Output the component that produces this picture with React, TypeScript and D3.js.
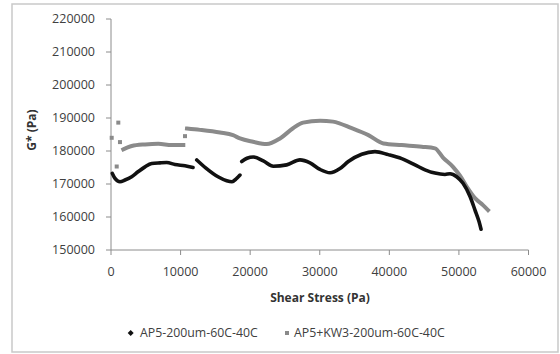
import * as d3 from 'd3';
import React, { useEffect, useRef } from 'react';

// AP5-200um-60C-40C (black), null splits the separate runs
const apStress = [190, 575, 1290, 2010, 2975, 3880, 4890, 5850, 7040, 8005, 9200, 10635, 11785, null,
  12320, 13600, 15380, 16630, 17390, 18065, 18540, null,
  18785, 19550, 20450, 21890, 23325, 25250, 27160, 28600, 30040, 31475, 32910, 34105, 36030, 37940,
  39850, 41780, 43690, 45130, 46565, 48000, 48720, 49680, 50590, 51600, 52310, 52890, 53180];
const apModulus = [173200, 171700, 170700, 171200, 172200, 173700, 175200, 176200, 176400, 176500, 175900, 175500, 175000, null,
  177300, 174900, 172200, 171000, 170700, 171700, 172700, null,
  176800, 177800, 178200, 177000, 175400, 175800, 177300, 176400, 174400, 173400, 174700, 176800, 179000, 179800,
  178900, 177700, 175800, 174300, 173300, 172900, 173100, 172200, 170200, 166200, 162100, 158600, 156300];

// AP5+KW3-200um-60C-40C (gray)
const kwStress = [1770, 2975, 4890, 6800, 8720, 10390, null,
  10920, 12790, 15665, 17535, 18540, 20410, 22380, 24290, 26160, 27600, 30040, 31905, 34600,
  36990, 39150, 41780, 44650, 46560, 47715, 49150, 50160, 51120, 52310, 53460, 54180];
const kwModulus = [180500, 181500, 182000, 182200, 181800, 181800, null,
  186800, 186400, 185600, 184800, 183800, 182800, 182100, 183800, 186900, 188600, 189200, 188900, 186900,
  184800, 182300, 181800, 181300, 180800, 178000, 175200, 172500, 169200, 165700, 163600, 162100];
const kwDotStress = [100, 1050, 1290, 820, 10635];
const kwDotModulus = [184000, 188600, 182700, 175300, 184500];

const xTicks = [0, 10000, 20000, 30000, 40000, 50000, 60000];
const yTicks = [150000, 160000, 170000, 180000, 190000, 200000, 210000, 220000];
const seriesNames = ['AP5-200um-60C-40C', 'AP5+KW3-200um-60C-40C'];

const App = () => {
  const ref = useRef<SVGSVGElement | null>(null);

  useEffect(() => {
    const svg = d3.select(ref.current);
    svg.selectAll('*').remove();
    const font = '"Open Sans", sans-serif';
    const axisColor = '#8c8c8c';
    const black = '#111';
    const gray = '#8a8a8a';

    svg.append('rect').attr('x', 12).attr('y', 4).attr('width', 546).attr('height', 348)
      .attr('fill', '#fff').attr('stroke', '#c9c9c9').attr('stroke-width', 1.5);

    const x = d3.scaleLinear().domain([0, 60000]).range([111, 528.5]);
    const y = d3.scaleLinear().domain([150000, 220000]).range([250, 19]);

    // axes
    svg.append('line').attr('x1', x(0)).attr('x2', x(0)).attr('y1', y(220000)).attr('y2', y(150000))
      .attr('stroke', axisColor);
    svg.append('line').attr('x1', x(0)).attr('x2', x(60000)).attr('y1', y(150000)).attr('y2', y(150000))
      .attr('stroke', axisColor);

    svg.selectAll('.yt').data(yTicks).enter().append('line')
      .attr('x1', x(0) - 5).attr('x2', x(0)).attr('y1', (d) => y(d)).attr('y2', (d) => y(d))
      .attr('stroke', axisColor);
    svg.selectAll('.xt').data(xTicks).enter().append('line')
      .attr('x1', (d) => x(d)).attr('x2', (d) => x(d)).attr('y1', y(150000)).attr('y2', y(150000) + 5)
      .attr('stroke', axisColor);

    svg.selectAll('.yl').data(yTicks).enter().append('text')
      .attr('x', 95).attr('y', (d) => y(d)).attr('dy', '0.35em')
      .attr('text-anchor', 'end').style('font-family', font).style('font-size', '12.5px').attr('fill', '#404040')
      .text((d) => d);
    svg.selectAll('.xl').data(xTicks).enter().append('text')
      .attr('x', (d) => x(d)).attr('y', 276)
      .attr('text-anchor', 'middle').style('font-family', font).style('font-size', '12.5px').attr('fill', '#404040')
      .text((d) => d);

    svg.append('text').attr('x', 320).attr('y', 302).attr('text-anchor', 'middle')
      .style('font-family', font).style('font-size', '12px').style('font-weight', 'bold').attr('fill', '#333')
      .text('Shear Stress (Pa)');
    svg.append('text').attr('transform', 'translate(36,130) rotate(-90)').attr('text-anchor', 'middle')
      .style('font-family', font).style('font-size', '12px').style('font-weight', 'bold').attr('fill', '#333')
      .text('G* (Pa)');

    // series
    const line = d3.line<[number, number | null]>()
      .defined((d) => d[0] != null && d[1] != null)
      .x((d) => x(d[0]))
      .y((d) => y(d[1] as number))
      .curve(d3.curveMonotoneX);

    const kwPts = kwStress.map((s, i) => [s, kwModulus[i]] as [number, number | null]);
    const apPts = apStress.map((s, i) => [s, apModulus[i]] as [number, number | null]);

    svg.append('path').attr('d', line(kwPts)).attr('fill', 'none').attr('stroke', gray)
      .attr('stroke-width', 4).attr('stroke-linecap', 'square').attr('stroke-linejoin', 'round');
    svg.selectAll('.kwd').data(kwDotStress).enter().append('rect')
      .attr('x', (d) => x(d) - 2).attr('y', (d, i) => y(kwDotModulus[i]) - 2)
      .attr('width', 4).attr('height', 4).attr('fill', gray);

    svg.append('path').attr('d', line(apPts)).attr('fill', 'none').attr('stroke', black)
      .attr('stroke-width', 3.6).attr('stroke-linecap', 'round').attr('stroke-linejoin', 'round');

    // legend
    const ly = 333;
    svg.append('path').attr('d', `M${130.7},${ly - 3}L${133.7},${ly}L${130.7},${ly + 3}L${127.7},${ly}Z`).attr('fill', black);
    svg.append('text').attr('x', 140).attr('y', ly).attr('dy', '0.35em')
      .style('font-family', font).style('font-size', '12.3px').attr('fill', '#404040').text(seriesNames[0]);
    svg.append('rect').attr('x', 285).attr('y', ly - 2).attr('width', 4).attr('height', 4).attr('fill', gray);
    svg.append('text').attr('x', 294).attr('y', ly).attr('dy', '0.35em')
      .style('font-family', font).style('font-size', '12.3px').attr('fill', '#404040').text(seriesNames[1]);
  }, []);

  return <svg ref={ref} width={560} height={354} style={{ position: 'fixed', left: 0, top: 0 }} />;
};

export default App;
